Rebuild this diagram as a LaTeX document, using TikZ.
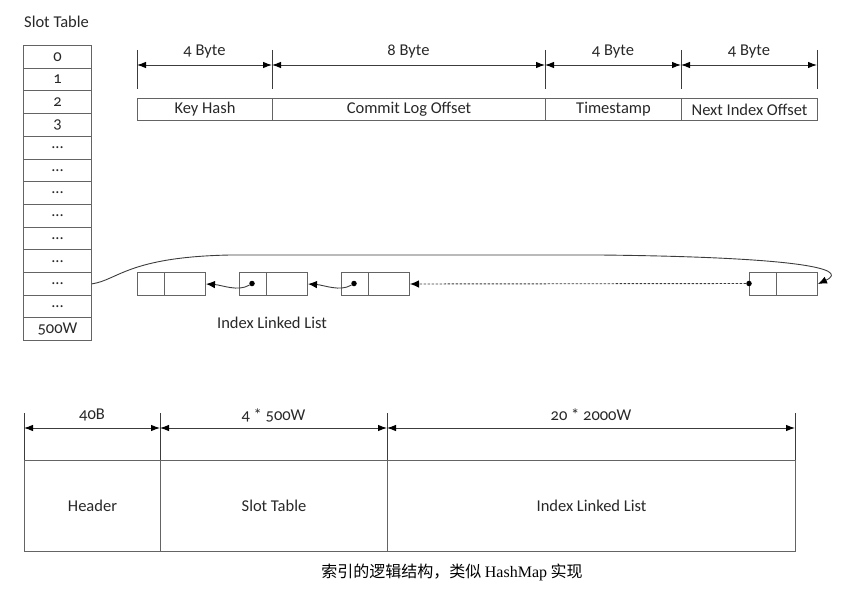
\documentclass[tikz,border=0pt]{standalone}
\usepackage{fontspec}
\setmainfont{Carlito}[Numbers=OldStyle]
\newfontfamily\cjkfont{Noto Sans CJK SC}
\newfontfamily\serifrm{Liberation Serif}
\usetikzlibrary{arrows.meta}
\definecolor{linec}{RGB}{100,100,100}
\definecolor{dimc}{RGB}{60,60,60}
\definecolor{txtc}{RGB}{40,40,40}
\newcommand\mythreedots{...}
\begin{document}
\begin{tikzpicture}[x=1pt,y=-1pt,
  cell/.style={draw=linec,line width=1pt,rectangle,inner sep=0pt,anchor=north west,
    text=txtc,font=\fontsize{16.5}{18}\selectfont},
  lbl/.style={text=txtc,font=\fontsize{16.5}{18}\selectfont,inner sep=0pt},
  tick/.style={draw=dimc,line width=0.9pt},
  dimarrow/.style={draw=dimc,line width=0.9pt,{Latex[length=9pt,width=6.5pt,color=black]}-{Latex[length=9pt,width=6.5pt,color=black]}},
  link/.style={draw=dimc,line width=0.9pt,-{Latex[length=9pt,width=7.5pt,color=black]}},
  dot/.style={circle,fill=black,inner sep=0pt,minimum size=5.5pt}
]
\useasboundingbox (0,0) rectangle (844,602);

% Slot table
\node[lbl,anchor=west] (sttitle) at (24,22) {Slot Table};
\foreach \i/\t in {0/0,1/1,2/2,3/3,4/\mythreedots,5/\mythreedots,6/\mythreedots,7/\mythreedots,8/\mythreedots,9/\mythreedots,10/\mythreedots,11/\mythreedots,12/500W} {
  \node[cell,minimum width=68pt,minimum height=22.7pt] (s\i) at (23,{45+22.7*\i}) {\t};
}

% Record layout (top)
\node[cell,minimum width=135pt,minimum height=22pt] (kh) at (137,98) {Key Hash};
\node[cell,minimum width=273pt,minimum height=22pt] (clo) at (272,98) {Commit Log Offset};
\node[cell,minimum width=136pt,minimum height=22pt] (ts) at (545,98) {Timestamp};
\node[cell,minimum width=136pt,minimum height=22pt] (nio) at (681,98) {Next Index Offset};

\foreach \n/\x in {a/137,b/272,c/545,d/681,e/817} {
  \coordinate (t\n1) at (\x,50);
  \coordinate (t\n2) at (\x,89);
  \coordinate (t\n) at (\x,65);
  \draw[tick] (t\n1) -- (t\n2);
}
\draw[dimarrow] (ta) -- (tb);
\draw[dimarrow] (tb) -- (tc);
\draw[dimarrow] (tc) -- (td);
\draw[dimarrow] (td) -- (te);
\node[lbl] (l1) at (204.5,52) {4 Byte};
\node[lbl] (l2) at (408.5,52) {8 Byte};
\node[lbl] (l3) at (613,52) {4 Byte};
\node[lbl] (l4) at (749,52) {4 Byte};

% Linked list
\foreach \k/\x in {1/137,2/239,3/341,4/749} {
  \node[cell,minimum width=27pt,minimum height=23pt] (n\k a) at (\x,272) {};
  \node[cell,minimum width=41pt,minimum height=23pt] (n\k b) at (\x+27,272) {};
}
\node[dot] (d2) at (252,283.5) {};
\node[dot] (d3) at (354,283.5) {};
\node[dot] (d4) at (749,283.5) {};
\draw[link] (d2) .. controls (238,292) and (222,285) .. (n1b.east);
\draw[link] (d3) .. controls (340,292) and (324,285) .. (n2b.east);
\draw[link,dashed,dash pattern=on 2.5pt off 1.5pt] (d4) -- (n3b.east);
\draw[link] (s10.east) .. controls (118,280) and (128,257) .. (230,255)
  -- (600,255) .. controls (790,257) and (852,268) .. (n4b.east);
\node[lbl] (ill) at (272,323) {Index Linked List};

% File layout (bottom)
\node[cell,minimum width=136pt,minimum height=91pt] (hdr) at (24,460) {Header};
\node[cell,minimum width=227pt,minimum height=91pt] (slt) at (160,460) {Slot Table};
\node[cell,minimum width=408pt,minimum height=91pt] (ilt) at (387,460) {Index Linked List};
\foreach \n/\x in {p/24,q/160,r/387,s/795} {
  \coordinate (b\n1) at (\x,413);
  \coordinate (b\n2) at (\x,460);
  \coordinate (b\n) at (\x,428);
  \draw[tick] (b\n1) -- (b\n2);
}
\draw[dimarrow] (bp) -- (bq);
\draw[dimarrow] (bq) -- (br);
\draw[dimarrow] (br) -- (bs);
\node[lbl] (m1) at (92,415) {40B};
\node[lbl] (m2) at (273.5,415) {4 * 500W};
\node[lbl] (m3) at (591,415) {20 * 2000W};

\node[text=black,inner sep=0pt,font=\fontsize{16}{18}\selectfont] (cap) at (452,572)
  {\cjkfont 索引的逻辑结构，类似 {\serifrm HashMap} 实现};
\end{tikzpicture}
\end{document}
